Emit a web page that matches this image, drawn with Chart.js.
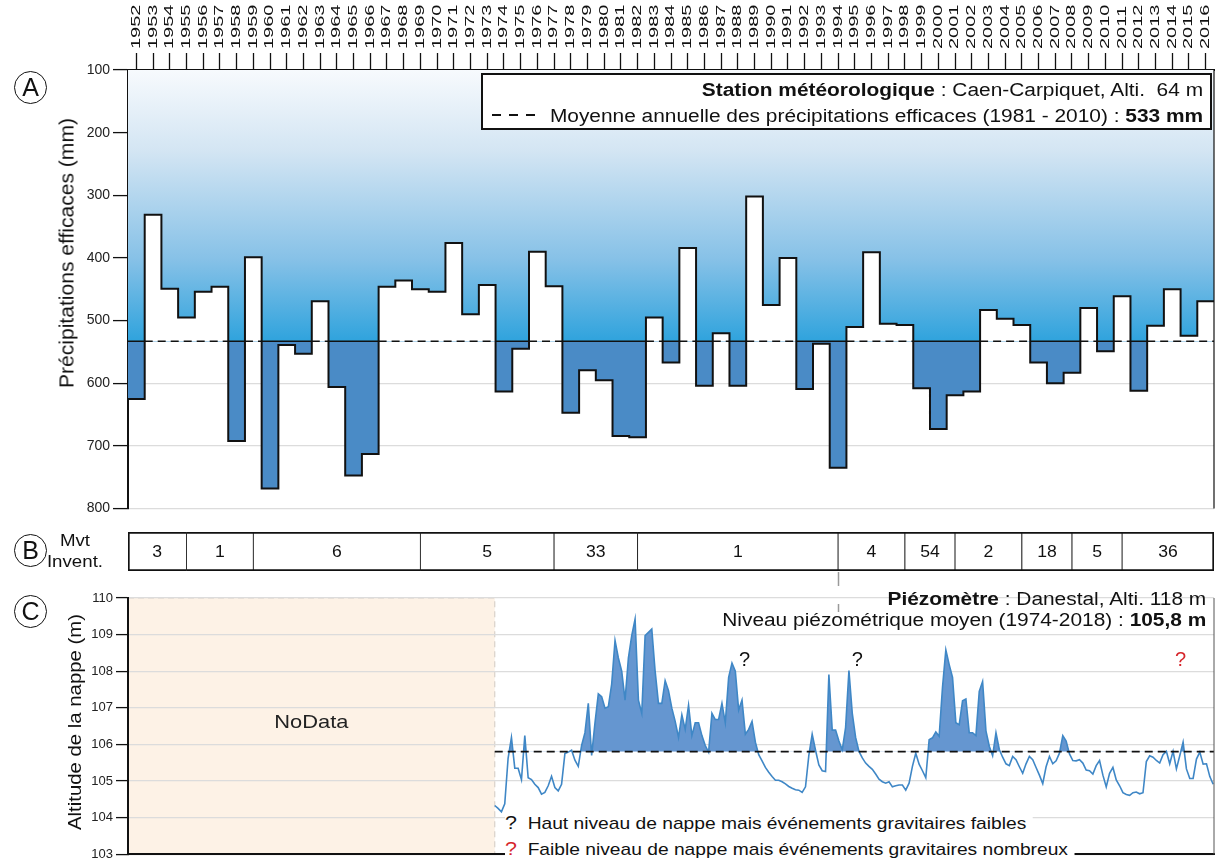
<!DOCTYPE html>
<html>
<head>
<meta charset="utf-8">
<script src="https://cdn.jsdelivr.net/npm/chart.js@4.4.1/dist/chart.umd.min.js"></script>
<style>
  body { margin: 0; background: #fff; font-family: "Liberation Sans", Arial, sans-serif; color: #111; }
  #wrap { position: relative; width: 1222px; height: 865px; overflow: hidden; }
  canvas { position: absolute; }
  .txt { position: absolute; white-space: nowrap; }
  .circ { position: absolute; width: 31px; height: 31px; margin: -17px 0 0 -17px; border: 1.6px solid #111;
          border-radius: 50%; font-size: 25px; line-height: 31px; text-align: center; background: #fff; }
  .ytitle { position: absolute; white-space: nowrap; }
  .dash { position: absolute; left: 9px; top: 39px; width: 44px; height: 2px;
          background: repeating-linear-gradient(90deg, #111 0 9px, transparent 9px 17px); }
  .wide { transform-origin: right center; transform: scaleX(1.16); }
</style>
</head>
<body>
<div id="wrap">
  <canvas id="chartA" width="1222" height="520" style="left:0;top:0"></canvas>
  <canvas id="chartB" width="1086" height="39" style="left:128px;top:532px"></canvas>
  <canvas id="chartC" width="1222" height="300" style="left:0;top:565px"></canvas>

  <div class="circ" style="left:31px;top:88px">A</div>
  <div class="circ" style="left:31px;top:551px">B</div>
  <div class="circ" style="left:31px;top:612px">C</div>

  <div class="ytitle" style="left:67px;top:253px;font-size:19.5px;transform:translate(-50%,-50%) rotate(-90deg) scaleX(1.08)">Précipitations efficaces (mm)</div>
  <div class="ytitle" style="left:75px;top:722px;font-size:18px;transform:translate(-50%,-50%) rotate(-90deg) scaleX(1.13)">Altitude de la nappe (m)</div>

  <div class="txt" style="left:75px;top:541px;transform:translate(-50%,-50%) scaleX(1.1);font-size:17px">Mvt</div>
  <div class="txt" style="left:75px;top:562px;transform:translate(-50%,-50%) scaleX(1.1);font-size:17px">Invent.</div>

  <div class="txt" style="left:481px;top:73px;width:727px;height:53px;border:2px solid #111;background:#fff;
       text-align:right;font-size:18px;line-height:26px">
    <div class="wide" style="padding-right:6px;margin-top:2px"><b>Station météorologique</b> : Caen-Carpiquet, Alti.&nbsp; 64 m</div>
    <div class="wide" style="padding-right:6px">Moyenne annuelle des précipitations efficaces (1981 - 2010) : <b>533 mm</b></div>
    <span class="dash"></span>
  </div>

  <div class="txt" style="right:16px;top:589px;text-align:right;font-size:18px;line-height:21px">
    <div class="wide"><b>Piézomètre</b> : Danestal, Alti. 118 m</div>
    <div class="wide">Niveau piézométrique moyen (1974-2018) : <b>105,8 m</b></div>
  </div>

  <div class="txt" style="left:505px;top:812px;font-size:17px;line-height:22px;background:#fff;padding-right:6px;transform-origin:left center;transform:scaleX(1.13)">
    <span style="font-size:19px">?</span>&nbsp; Haut niveau de nappe mais événements gravitaires faibles</div>
  <div class="txt" style="left:505px;top:838px;font-size:17px;line-height:22px;background:#fff;padding-right:6px;transform-origin:left center;transform:scaleX(1.13)">
    <span style="font-size:19px;color:#d6262b">?</span>&nbsp; Faible niveau de nappe mais événements gravitaires nombreux</div>
</div>

<script>
var FONT = '"Liberation Sans", Arial, sans-serif';

// A - précipitations efficaces annuelles (mm), Caen-Carpiquet
var years = [1952, 1953, 1954, 1955, 1956, 1957, 1958, 1959, 1960, 1961,
             1962, 1963, 1964, 1965, 1966, 1967, 1968, 1969, 1970, 1971,
             1972, 1973, 1974, 1975, 1976, 1977, 1978, 1979, 1980, 1981,
             1982, 1983, 1984, 1985, 1986, 1987, 1988, 1989, 1990, 1991,
             1992, 1993, 1994, 1995, 1996, 1997, 1998, 1999, 2000, 2001,
             2002, 2003, 2004, 2005, 2006, 2007, 2008, 2009, 2010, 2011,
             2012, 2013, 2014, 2015, 2016];
var precipEff = [625, 331, 449, 495, 454, 446, 692, 399, 768, 539,
                 553, 469, 606, 747, 713, 446, 436, 450, 454, 376,
                 490, 443, 613, 545, 390, 445, 647, 579, 595, 684,
                 686, 495, 567, 384, 604, 520, 604, 302, 475, 400,
                 609, 537, 735, 510, 391, 505, 507, 608, 673, 619,
                 613, 483, 497, 507, 567, 600, 583, 480, 549, 461,
                 612, 508, 450, 524, 469];
var precipMean = 533;
var precipTicks = [100, 200, 300, 400, 500, 600, 700, 800];

// B - mouvements inventoriés par période
var mvtBounds = [1951.5, 1955, 1959, 1969, 1977, 1982, 1994, 1998, 2001, 2005, 2008, 2011, 2016.5];
var mvtCounts = [3, 1, 6, 5, 33, 1, 4, 54, 2, 18, 5, 36];

// C - piézomètre de Danestal (m), pas ~0.2 an
var piezoStart = 1973.45;
var piezoStep = 0.2;
var piezoLevels = [
  104.33, 104.25, 104.16, 104.38, 105.62, 106.19, 105.35, 105.35, 105.04, 106.24,
  105.09, 105.04, 104.91, 104.82, 104.64, 104.69, 104.87, 105.13, 104.82, 104.73,
  104.91, 105.75, 105.79, 105.84, 105.57, 105.40, 105.97, 106.32, 107.12, 105.70,
  106.59, 107.38, 107.30, 106.99, 107.03, 107.65, 108.84, 108.36, 108.00, 107.21,
  108.36, 108.97, 109.42, 107.21, 106.85, 108.97, 109.06, 109.15, 108.00, 107.12,
  107.12, 107.74, 107.47, 106.99, 106.63, 106.19, 106.81, 106.41, 107.07, 106.24,
  106.59, 106.59, 106.24, 105.97, 105.79, 106.85, 106.68, 106.68, 107.12, 106.59,
  107.83, 108.22, 108.00, 106.94, 107.21, 106.28, 106.41, 106.63, 106.06, 105.72,
  105.55, 105.37, 105.24, 105.12, 105.02, 105.02, 104.98, 104.92, 104.85, 104.80,
  104.76, 104.75, 104.69, 104.84, 105.70, 106.28, 105.84, 105.44, 105.28, 105.26,
  107.91, 106.39, 106.39, 106.09, 105.85, 106.46, 108.02, 106.85, 106.19, 105.81,
  105.63, 105.49, 105.40, 105.32, 105.19, 105.05, 104.98, 104.94, 104.98, 104.84,
  104.87, 104.89, 104.89, 104.75, 104.94, 105.40, 105.76, 105.46, 105.28, 105.09,
  106.13, 106.18, 106.34, 106.22, 107.56, 108.58, 108.18, 107.83, 106.59, 106.54,
  107.19, 107.24, 106.32, 106.32, 106.24, 107.45, 107.72, 106.37, 105.95, 105.69,
  106.32, 105.86, 105.65, 105.47, 105.42, 105.67, 105.58, 105.39, 105.21, 105.47,
  105.67, 105.58, 105.37, 105.16, 104.93, 105.39, 105.67, 105.47, 105.55, 105.76,
  106.24, 106.09, 105.74, 105.56, 105.55, 105.58, 105.49, 105.30, 105.28, 105.19,
  105.42, 105.56, 105.16, 104.84, 105.21, 105.37, 105.03, 104.87, 104.68, 104.63,
  104.61, 104.68, 104.70, 104.65, 104.68, 105.53, 105.69, 105.65, 105.56, 105.49,
  105.72, 105.81, 105.47, 105.81, 105.33, 105.69, 106.06, 105.33, 105.07, 105.07,
  105.60, 105.79, 105.46, 105.47, 105.12, 104.91];
var piezoMean = 105.8;
var piezoTicks = [103, 104, 105, 106, 107, 108, 109, 110];

var xMin = years[0] - 0.5, xMax = years[years.length - 1] + 0.5;
var last = years.length - 1;

/* ---------------------------------- A ---------------------------------- */

var stepPts = years.map(function (y, i) { return { x: y - 0.5, y: precipEff[i] }; });
stepPts.push({ x: xMax, y: precipEff[last] });
var meanPts = years.map(function (y) { return { x: y - 0.5, y: precipMean }; });
meanPts.push({ x: xMax, y: precipMean });

function skyGradient(chart) {
  var area = chart.chartArea;
  if (!area || !chart.scales.y) return 'rgba(0,0,0,0)';
  var yMean = chart.scales.y.getPixelForValue(precipMean);
  var g = chart.ctx.createLinearGradient(0, area.top, 0, yMean);
  g.addColorStop(0, '#f7fafd');
  g.addColorStop(0.3, '#d3e5f3');
  g.addColorStop(0.7, '#86c1e7');
  g.addColorStop(1, '#2fa3dd');
  return g;
}

var yearLabels = {
  id: 'yearLabels',
  afterDraw: function (chart) {
    var c = chart.ctx, xs = chart.scales.x;
    c.save();
    c.fillStyle = '#111';
    c.font = '12.5px ' + FONT;
    c.textAlign = 'left';
    c.textBaseline = 'middle';
    years.forEach(function (y) {
      c.save();
      c.translate(xs.getPixelForValue(y), 49);
      c.rotate(-Math.PI / 2);
      c.scale(1.6, 1);
      c.fillText(String(y), 0, 0);
      c.restore();
    });
    // cadre droit
    c.strokeStyle = '#111';
    c.lineWidth = 1.2;
    c.beginPath();
    c.moveTo(chart.chartArea.right, chart.chartArea.top);
    c.lineTo(chart.chartArea.right, chart.chartArea.bottom);
    c.stroke();
    c.restore();
  }
};

var chartA = new Chart(document.getElementById('chartA'), {
  type: 'line',
  data: {
    datasets: [
      {
        data: stepPts,
        stepped: true,
        borderColor: '#111',
        borderWidth: 2,
        pointRadius: 0,
        fill: { target: { value: precipMean }, above: '#ffffff', below: '#4a8bc6' }
      },
      {
        // moyenne : tiretée, pleine au-dessus des années déficitaires
        data: meanPts,
        borderColor: '#111',
        borderWidth: 1.6,
        pointRadius: 0,
        fill: false,
        segment: {
          borderDash: function (s) { return precipEff[s.p0DataIndex] > precipMean ? [] : [8, 5]; }
        }
      },
      {
        // dégradé entre le haut du graphique et la moyenne
        data: meanPts,
        borderWidth: 0,
        pointRadius: 0,
        fill: 'end',
        backgroundColor: function (ctx) { return skyGradient(ctx.chart); }
      }
    ]
  },
  options: {
    responsive: false,
    animation: false,
    layout: { padding: { left: 0, right: 8, top: 0, bottom: 10 } },
    plugins: {
      legend: { display: false },
      tooltip: { enabled: false },
      filler: { drawTime: 'beforeDatasetsDraw' }
    },
    scales: {
      x: {
        type: 'linear',
        position: 'top',
        min: xMin,
        max: xMax,
        afterBuildTicks: function (ax) { ax.ticks = years.map(function (v) { return { value: v }; }); },
        afterFit: function (ax) { ax.height = 70; },
        ticks: { display: false },
        grid: { drawOnChartArea: false, drawTicks: true, tickLength: 17, tickColor: '#111', tickWidth: 1.3 },
        border: { display: true, color: '#111', width: 2 }
      },
      y: {
        type: 'linear',
        reverse: true,
        min: 100,
        max: 800,
        afterBuildTicks: function (ax) { ax.ticks = precipTicks.map(function (v) { return { value: v }; }); },
        afterFit: function (ax) { ax.width = 128; },
        ticks: { padding: 3, color: '#222', font: { family: FONT, size: 14 } },
        grid: { color: '#dcdcdc', lineWidth: 1.2, tickColor: '#111', tickLength: 15, tickWidth: 1.3 },
        border: { color: '#111', width: 2 }
      }
    }
  },
  plugins: [yearLabels]
});

/* ---------------------------------- B ---------------------------------- */

var cellLabels = {
  id: 'cellLabels',
  afterDatasetsDraw: function (chart) {
    var c = chart.ctx;
    c.save();
    c.fillStyle = '#111';
    c.font = '16px ' + FONT;
    c.textAlign = 'center';
    c.textBaseline = 'middle';
    chart.getDatasetMeta(0).data.forEach(function (bar, i) {
      var p = bar.getCenterPoint();
      c.save();
      c.translate(p.x, p.y + 1);
      c.scale(1.1, 1);
      c.fillText(String(mvtCounts[i]), 0, 0);
      c.restore();
    });
    c.restore();
  }
};

var chartB = new Chart(document.getElementById('chartB'), {
  type: 'bar',
  data: {
    labels: ['Mvt'],
    datasets: [{
      data: mvtCounts.map(function (n, i) { return { x: [mvtBounds[i], mvtBounds[i + 1]], y: 'Mvt' }; }),
      backgroundColor: '#ffffff',
      borderColor: '#111',
      borderSkipped: false,
      borderWidth: function (ctx) {
        return {
          top: 2, bottom: 2,
          left: ctx.dataIndex === 0 ? 2 : 0.8,
          right: ctx.dataIndex === mvtCounts.length - 1 ? 2 : 0.8
        };
      },
      barPercentage: 1,
      categoryPercentage: 1
    }]
  },
  options: {
    indexAxis: 'y',
    responsive: false,
    animation: false,
    layout: { padding: 0 },
    plugins: { legend: { display: false }, tooltip: { enabled: false } },
    scales: {
      x: { type: 'linear', display: false, min: xMin, max: xMax },
      y: { display: false }
    }
  },
  plugins: [cellLabels]
});

/* ---------------------------------- C ---------------------------------- */

var piezoPts = piezoLevels.map(function (v, i) { return { x: piezoStart + i * piezoStep, y: v }; });

var piezoDecor = {
  id: 'piezoDecor',
  beforeDraw: function (chart) {
    var c = chart.ctx, a = chart.chartArea, xs = chart.scales.x;
    var x0 = xs.getPixelForValue(xMin), x1 = xs.getPixelForValue(piezoStart);
    c.save();
    c.fillStyle = '#fdf2e6';
    c.fillRect(x0, a.top, x1 - x0, a.bottom - a.top);
    c.strokeStyle = '#d9d2c9';
    c.lineWidth = 1.2;
    c.setLineDash([6, 4]);
    c.beginPath();
    c.moveTo(x0, a.top);
    c.lineTo(x1, a.top);
    c.lineTo(x1, a.bottom);
    c.stroke();
    c.restore();
  },
  afterDraw: function (chart) {
    var c = chart.ctx, a = chart.chartArea, xs = chart.scales.x, ys = chart.scales.y;
    c.save();
    // NoData
    c.fillStyle = '#222';
    c.font = '19px ' + FONT;
    c.textAlign = 'center';
    c.textBaseline = 'middle';
    c.save();
    c.translate((xs.getPixelForValue(xMin) + xs.getPixelForValue(piezoStart)) / 2, a.top + 125);
    c.scale(1.15, 1);
    c.fillText('NoData', 0, 0);
    c.restore();
    // points d'interrogation
    c.font = '20px ' + FONT;
    [[1988.4, '#111'], [1995.15, '#111'], [2014.5, '#d6262b']].forEach(function (q) {
      c.fillStyle = q[1];
      c.fillText('?', xs.getPixelForValue(q[0]), ys.getPixelForValue(108.3));
    });
    // repère vertical 1994
    var xv = Math.round(xs.getPixelForValue(1994)) + 0.5;
    c.strokeStyle = '#9a9a9a';
    c.lineWidth = 1.5;
    c.setLineDash([14, 18]);
    c.beginPath();
    c.moveTo(xv, 7);
    c.lineTo(xv, a.top + 14);
    c.stroke();
    // cadre droit
    c.setLineDash([]);
    c.strokeStyle = '#555';
    c.lineWidth = 1;
    c.beginPath();
    c.moveTo(a.right, a.top);
    c.lineTo(a.right, a.bottom);
    c.stroke();
    c.restore();
  }
};

var chartC = new Chart(document.getElementById('chartC'), {
  type: 'line',
  data: {
    datasets: [
      {
        data: [{ x: piezoStart, y: piezoMean }, { x: xMax, y: piezoMean }],
        borderColor: '#111',
        borderWidth: 1.8,
        borderDash: [8, 5],
        pointRadius: 0,
        fill: false
      },
      {
        data: piezoPts,
        borderColor: '#3f87c6',
        borderWidth: 1.6,
        pointRadius: 0,
        tension: 0,
        fill: { target: { value: piezoMean }, above: '#6596d0', below: 'rgba(0,0,0,0)' }
      }
    ]
  },
  options: {
    responsive: false,
    animation: false,
    layout: { padding: { left: 0, right: 8, top: 33, bottom: 3 } },
    plugins: { legend: { display: false }, tooltip: { enabled: false } },
    scales: {
      x: {
        type: 'linear',
        min: xMin,
        max: xMax,
        ticks: { display: false },
        grid: { display: false, drawTicks: false },
        border: { display: true, color: '#111', width: 2 },
        afterFit: function (ax) { ax.height = 0; }
      },
      y: {
        type: 'linear',
        min: 103,
        max: 110,
        afterBuildTicks: function (ax) { ax.ticks = piezoTicks.map(function (v) { return { value: v }; }); },
        afterFit: function (ax) { ax.width = 128; },
        ticks: { padding: 3, color: '#222', font: { family: FONT, size: 13 } },
        grid: { color: '#dcdcdc', lineWidth: 1.2, tickColor: '#111', tickLength: 12, tickWidth: 1.3 },
        border: { color: '#111', width: 2 }
      }
    }
  },
  plugins: [piezoDecor]
});
</script>
</body>
</html>
